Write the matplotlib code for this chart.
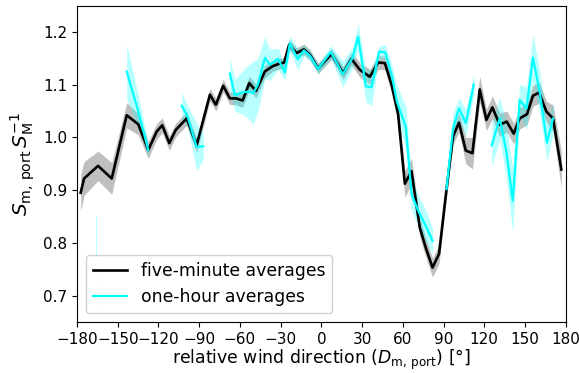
import numpy as np
import matplotlib
matplotlib.use("Agg")
import matplotlib.pyplot as plt

# five-minute averages: relative wind direction [deg], ratio, half-width of band
five_dir = [-177.3, -174.8, -164.5, -154.4, -143.4, -134.9, -127.5, -121.3, -117.2,
            -112.0, -107.3, -99.2, -91.9, -82.1, -77.7, -72.3, -67.4, -62.9, -58.0,
            -53.1, -48.2, -41.6, -35.9, -31.8, -27.4, -23.7, -18.3, -12.9, -8.5,
            -2.4, 7.5, 16.1, 22.2, 28.4, 35.7, 41.8, 46.8, 51.7, 56.5, 61.5, 66.4,
            69.6, 72.5, 76.9, 81.9, 86.7, 92.0, 97.0, 101.4, 106.4, 111.3, 116.7,
            121.6, 126.0, 131.4, 136.6, 141.7, 146.1, 151.5, 155.9, 160.4, 165.8,
            170.7, 176.8]
five_val = [0.895, 0.922, 0.946, 0.922, 1.042, 1.025, 0.976, 1.011, 1.023,
            0.989, 1.014, 1.036, 0.985, 1.081, 1.062, 1.098, 1.074, 1.074, 1.070,
            1.103, 1.088, 1.125, 1.135, 1.139, 1.142, 1.176, 1.160, 1.167, 1.157,
            1.131, 1.158, 1.122, 1.149, 1.128, 1.115, 1.142, 1.141, 1.100, 1.045,
            0.912, 0.936, 0.880, 0.829, 0.791, 0.753, 0.779, 0.897, 1.002, 1.028,
            0.975, 0.970, 1.091, 1.033, 1.057, 1.024, 1.030, 1.007, 1.036, 1.044,
            1.079, 1.085, 1.049, 1.036, 0.939]
five_err = [0.035, 0.032, 0.028, 0.030, 0.024, 0.020, 0.016, 0.015, 0.014,
            0.014, 0.013, 0.013, 0.013, 0.012, 0.012, 0.012, 0.012, 0.012, 0.013,
            0.013, 0.013, 0.012, 0.010, 0.010, 0.010, 0.010, 0.010, 0.010, 0.010,
            0.010, 0.010, 0.012, 0.012, 0.014, 0.014, 0.013, 0.013, 0.015, 0.018,
            0.025, 0.025, 0.020, 0.018, 0.018, 0.018, 0.018, 0.015, 0.015, 0.018,
            0.025, 0.030, 0.025, 0.020, 0.022, 0.022, 0.020, 0.020, 0.020, 0.020,
            0.020, 0.020, 0.020, 0.025, 0.035]

# one-hour averages: separate runs where data exist
hour_dir = [
    [-165.8, -165.2],
    [-143.4, -134.9, -127.5],
    [-102.9, -98.8, -91.9, -87.0],
    [-67.4, -63.7, -58.7, -54.1, -50.2, -46.7, -41.6, -37.9, -31.8, -26.9,
     -23.2, -17.3, -12.9, -8.5, -2.4, 7.0, 15.8, 23.0, 27.1, 32.8, 37.0,
     42.6, 47.1, 51.9, 55.6, 62.2, 66.4, 71.3, 76.2, 81.9],
    [92.2, 97.0, 101.4, 106.4, 112.3],
    [125.5, 131.4, 136.2, 141.0, 146.1, 151.1, 155.9, 160.8, 166.2, 170.7],
]
hour_val = [
    [0.76, 0.76],
    [1.125, 1.050, 0.976],
    [1.060, 1.042, 0.982, 0.983],
    [1.121, 1.080, 1.085, 1.087, 1.084, 1.100, 1.151, 1.138, 1.149, 1.123,
     1.178, 1.148, 1.165, 1.155, 1.130, 1.162, 1.120, 1.151, 1.191, 1.097,
     1.095, 1.163, 1.161, 1.118, 1.068, 1.020, 0.893, 0.861, 0.836, 0.804],
    [0.902, 1.017, 1.055, 1.027, 1.100],
    [0.985, 1.036, 0.975, 0.880, 1.071, 1.055, 1.151, 1.087, 0.990, 1.036],
]
hour_err = [
    [0.09, 0.09],
    [0.052, 0.030, 0.012],
    [0.025, 0.020, 0.045, 0.025],
    [0.030, 0.030, 0.040, 0.050, 0.060, 0.050, 0.040, 0.030, 0.020, 0.015,
     0.015, 0.020, 0.010, 0.010, 0.010, 0.012, 0.025, 0.020, 0.025, 0.030,
     0.035, 0.010, 0.015, 0.020, 0.030, 0.040, 0.030, 0.030, 0.030, 0.025],
    [0.010, 0.030, 0.020, 0.025, 0.020],
    [0.040, 0.040, 0.050, 0.060, 0.030, 0.040, 0.045, 0.040, 0.035, 0.030],
]

x_ticks = list(range(-180, 181, 30))
y_ticks = [0.7, 0.8, 0.9, 1.0, 1.1, 1.2]

fig = plt.figure(figsize=(5.79, 3.73), dpi=100)
ax = fig.add_axes([0.133, 0.137, 0.844, 0.848])

fd = np.array(five_dir)
fv = np.array(five_val)
fe = np.array(five_err)
ax.fill_between(fd, fv - fe, fv + fe, color="gray", alpha=0.5, lw=0, zorder=1)

for d, v, e in zip(hour_dir, hour_val, hour_err):
    d, v, e = np.array(d), np.array(v), np.array(e)
    ax.fill_between(d, v - e, v + e, color="cyan", alpha=0.28, lw=0, zorder=2)

ax.plot(fd, fv, color="black", lw=1.9, zorder=3, label="five-minute averages")
for i, (d, v) in enumerate(zip(hour_dir, hour_val)):
    ax.plot(d, v, color="cyan", lw=1.6, zorder=4,
            label="one-hour averages" if i == 1 else None)

ax.set_xlim(-180, 180)
ax.set_ylim(0.65, 1.25)
ax.set_xticks(x_ticks)
ax.set_yticks(y_ticks)
ax.tick_params(labelsize=11)
ax.set_xlabel(r"relative wind direction ($D_\mathrm{m,\,port}$) [°]",
              fontsize=12.4, labelpad=1)
ax.set_ylabel(r"$S_\mathrm{m,\,port}\,S_\mathrm{M}^{-1}$", fontsize=14.5)
ax.legend(loc="lower left", fontsize=12.4, framealpha=0.9)

fig.savefig("out.png", dpi=100)
